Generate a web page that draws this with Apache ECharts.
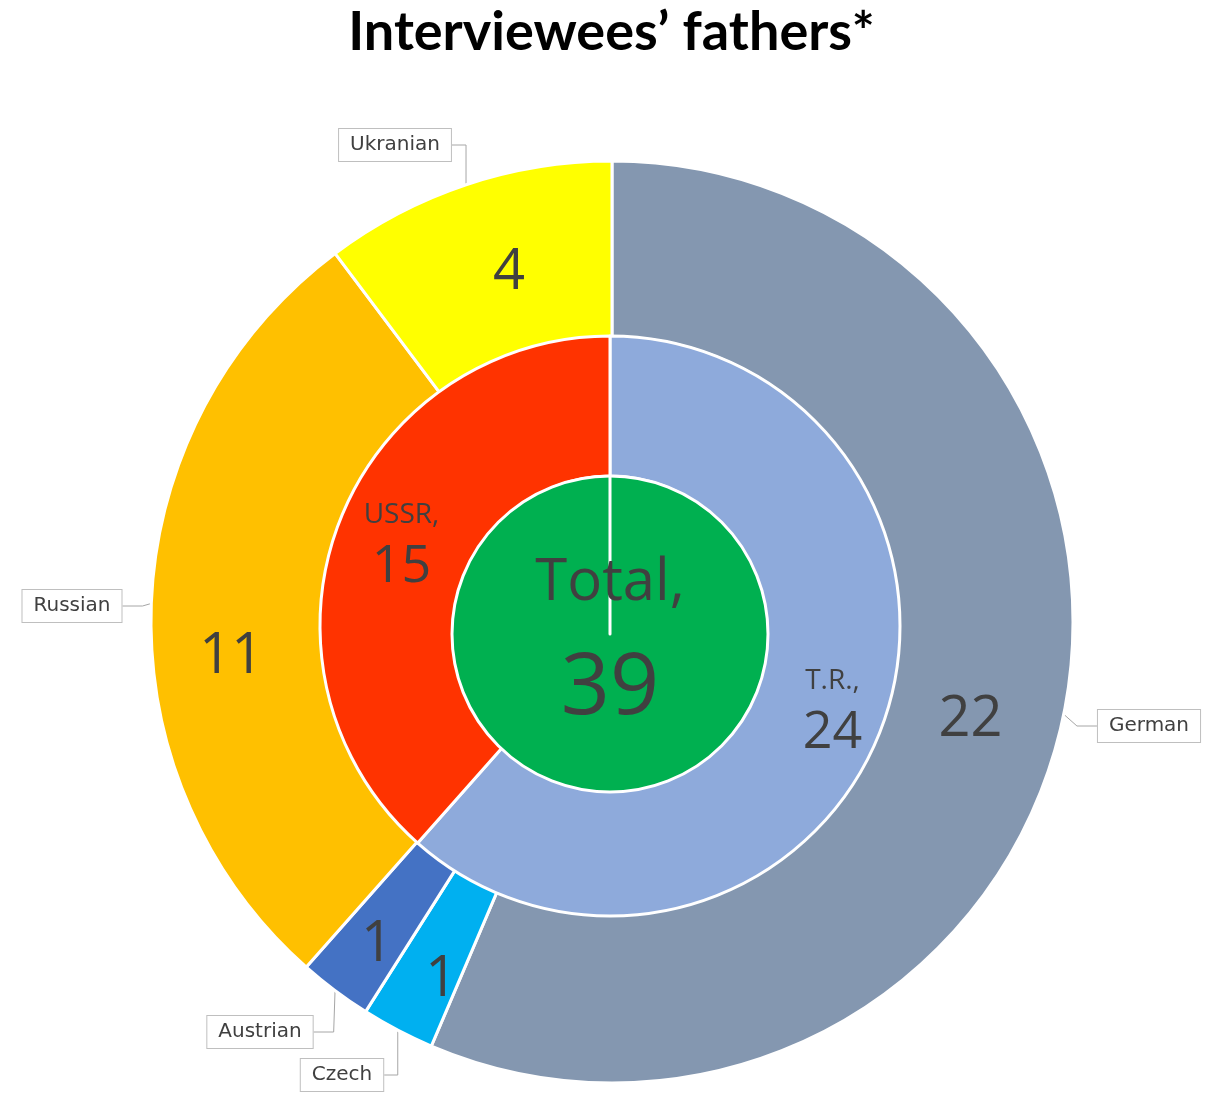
<!DOCTYPE html>
<html><head><meta charset="utf-8">
<script src="https://cdn.jsdelivr.net/npm/echarts@6/dist/echarts.min.js"></script>
<style>html,body{margin:0;padding:0;background:#fff}#main{width:1223px;height:1093px}</style>
</head><body><div id="main"></div>
<script>
// ---- data ----
const titleText = 'Interviewees\u2019 fathers*';
const totalName = 'Total';
const totalValue = 39;
const countryNames = ['T.R.', 'USSR'];
const countryValues = [24, 15];
const nationalityNames = ['German', 'Czech', 'Austrian', 'Russian', 'Ukranian'];
const nationalityValues = [22, 1, 1, 11, 4];

// ---- styles ----
const outerColors = ['#8497b0', '#00b0f0', '#4472c4', '#ffc000', '#ffff00'];
const middleColors = ['#8eaadb', '#ff3300'];
const totalColor = '#00b050';
const txt = '#404040';
const fontFam = '"Open Sans", "Noto Sans", sans-serif';
const calloutPos = [[1149, 726], [342, 1075], [260, 1032], [72, 606], [395, 145]];
const outerShift = [[-10, 23], [4, 25], [-9, 22], [-5, 50], [16, 8]];
const middleShift = [[14, 8], [0, 0]];

const outerData = nationalityNames.map((n, i) => ({ name: n, value: nationalityValues[i], itemStyle: { color: outerColors[i] } }));
const middleData = countryNames.map((n, i) => ({ name: n, value: countryValues[i], itemStyle: { color: middleColors[i] } }));

const chart = echarts.init(document.getElementById('main'), null, { renderer: 'canvas' });
const base = {
  type: 'pie', startAngle: 90, clockwise: true, avoidLabelOverlap: false,
  silent: true, emphasis: { disabled: true }, animation: false,
  itemStyle: { borderColor: '#fff', borderWidth: 3 }
};
chart.setOption({
  backgroundColor: '#fff',
  title: {
    text: titleText, left: 'center', top: 1,
    textStyle: { fontFamily: 'Lato, "Open Sans", sans-serif', fontWeight: 'bold', fontSize: 54, color: '#000' }
  },
  series: [
    Object.assign({}, base, {
      name: 'outer', center: [612, 622], radius: [285, 461],
      data: outerData,
      label: { show: true, position: 'inside', formatter: '{c}', color: txt, fontSize: 56, fontFamily: fontFam },
      labelLine: { show: false },
      labelLayout: function (p) { const s = outerShift[p.dataIndex]; return { dx: s[0], dy: s[1] }; }
    }),
    Object.assign({}, base, {
      name: 'middle', center: [610, 626], radius: [150, 290],
      data: middleData,
      label: {
        show: true, position: 'inside', formatter: '{n|{b},}\n{v|{c}}', color: txt, fontFamily: fontFam,
        rich: {
          n: { fontSize: 28, lineHeight: 40, color: txt, fontFamily: fontFam },
          v: { fontSize: 52, lineHeight: 64, color: txt, fontFamily: fontFam }
        }
      },
      labelLine: { show: false },
      labelLayout: function (p) { const s = middleShift[p.dataIndex]; return { dx: s[0], dy: s[1] }; }
    }),
    Object.assign({}, base, {
      name: 'total', center: [610, 634], radius: [0, 158],
      data: [
        { name: totalName, value: totalValue, itemStyle: { color: totalColor } },
        { name: '', value: 0, itemStyle: { color: totalColor }, label: { show: false } }
      ],
      label: {
        show: true, position: 'center', formatter: '{n|{b},}\n{v|{c}}', color: txt, fontFamily: fontFam,
        rich: {
          n: { fontSize: 58, lineHeight: 100, color: txt, fontFamily: fontFam },
          v: { fontSize: 86, lineHeight: 112, color: txt, fontFamily: fontFam }
        }
      },
      labelLine: { show: false },
      labelLayout: function () { return { dy: 5 }; }
    }),
    Object.assign({}, base, {
      name: 'callouts', center: [612, 622], radius: [285, 461],
      data: nationalityNames.map((n, i) => ({ name: n, value: nationalityValues[i] })),
      itemStyle: { color: 'rgba(0,0,0,0)', borderWidth: 0 },
      label: {
        show: true, position: 'outside', formatter: '{b}', color: txt, fontSize: 20,
        fontFamily: '"DejaVu Sans", Verdana, sans-serif',
        backgroundColor: '#fff', borderColor: '#bfbfbf', borderWidth: 1, padding: [6, 11]
      },
      labelLine: { show: true, length: 20, length2: 20, lineStyle: { color: '#a6a6a6', width: 1 } },
      labelLayout: function (p) {
        const q = calloutPos[p.dataIndex];
        return { x: q[0], y: q[1], align: 'center', verticalAlign: 'middle' };
      }
    })
  ]
});
</script>
</body></html>
